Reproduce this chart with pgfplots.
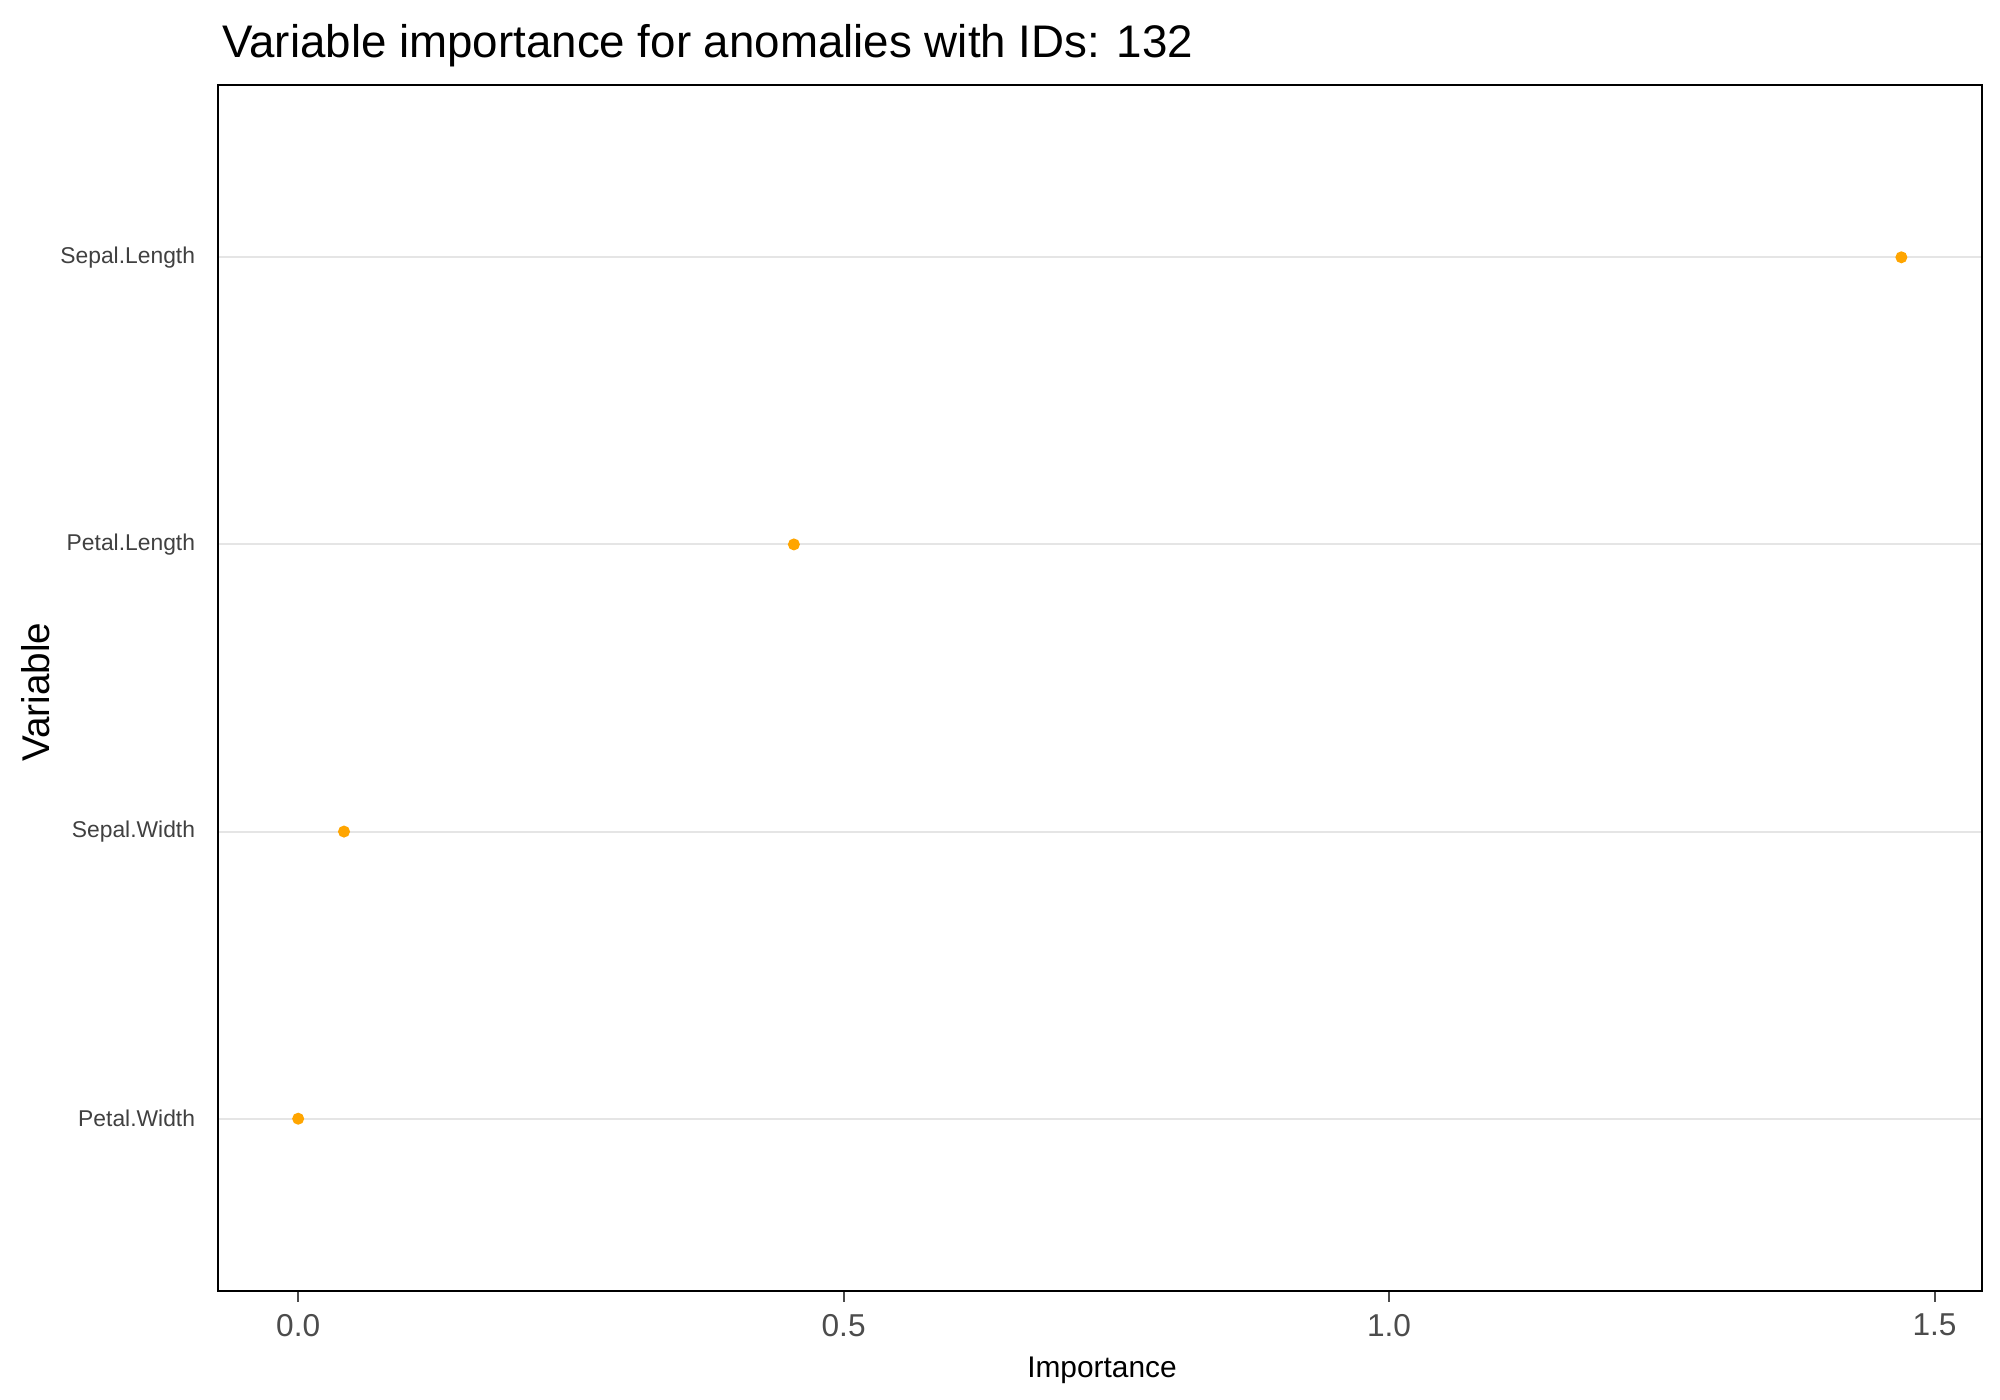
\documentclass[border=0pt]{standalone}
\usepackage{pgfplots}
\pgfplotsset{compat=1.18}
\usepackage{fontspec}
\setmainfont{Liberation Sans}
\definecolor{orng}{RGB}{255,165,0}
\begin{document}
\begin{tikzpicture}
\useasboundingbox (0,0) rectangle (20cm,14cm);
\begin{axis}[at={(2.18cm,1.09cm)},anchor=south west,scale only axis,
 width=17.64cm,height=12.06cm,
 xmin=-0.0735,xmax=1.5435,ymin=0.4,ymax=4.6,
 xtick={0,0.5,1,1.5},xticklabels={0.0,0.5,1.0,1.5},
 xtick pos=bottom,
 ytick={1,2,3,4},yticklabels={Petal.Width,Sepal.Width,Petal.Length,Sepal.Length},
 ymajorgrids,grid style={gray!20,line width=0.6pt},
 axis line style={line width=0.6pt},
 tick style={line width=0.6pt,black!70},tick align=outside,major tick length=3pt,
 ytick style={draw=none},
 x tick label style={font=\fontsize{9}{10}\selectfont,text=black!70},
 y tick label style={font=\fontsize{6.5}{8}\selectfont,text=black!75},
 /pgf/number format/assume math mode=true]
\addplot[only marks,mark=*,mark size=1.5pt,color=orng] coordinates {
(0,1) (0.042,2) (0.4544,3) (1.4696,4)};
\end{axis}
\node[anchor=base west,font=\fontsize{13}{16}\selectfont] at (2.1cm,13.42cm) {Variable importance for anomalies with IDs: 132};
\node[rotate=90,font=\fontsize{11}{13}\selectfont] at (0.36cm,7.08cm) {Variable};
\node[font=\fontsize{8.5}{10}\selectfont] at (11.02cm,0.3cm) {Importance};
\end{tikzpicture}
\end{document}
